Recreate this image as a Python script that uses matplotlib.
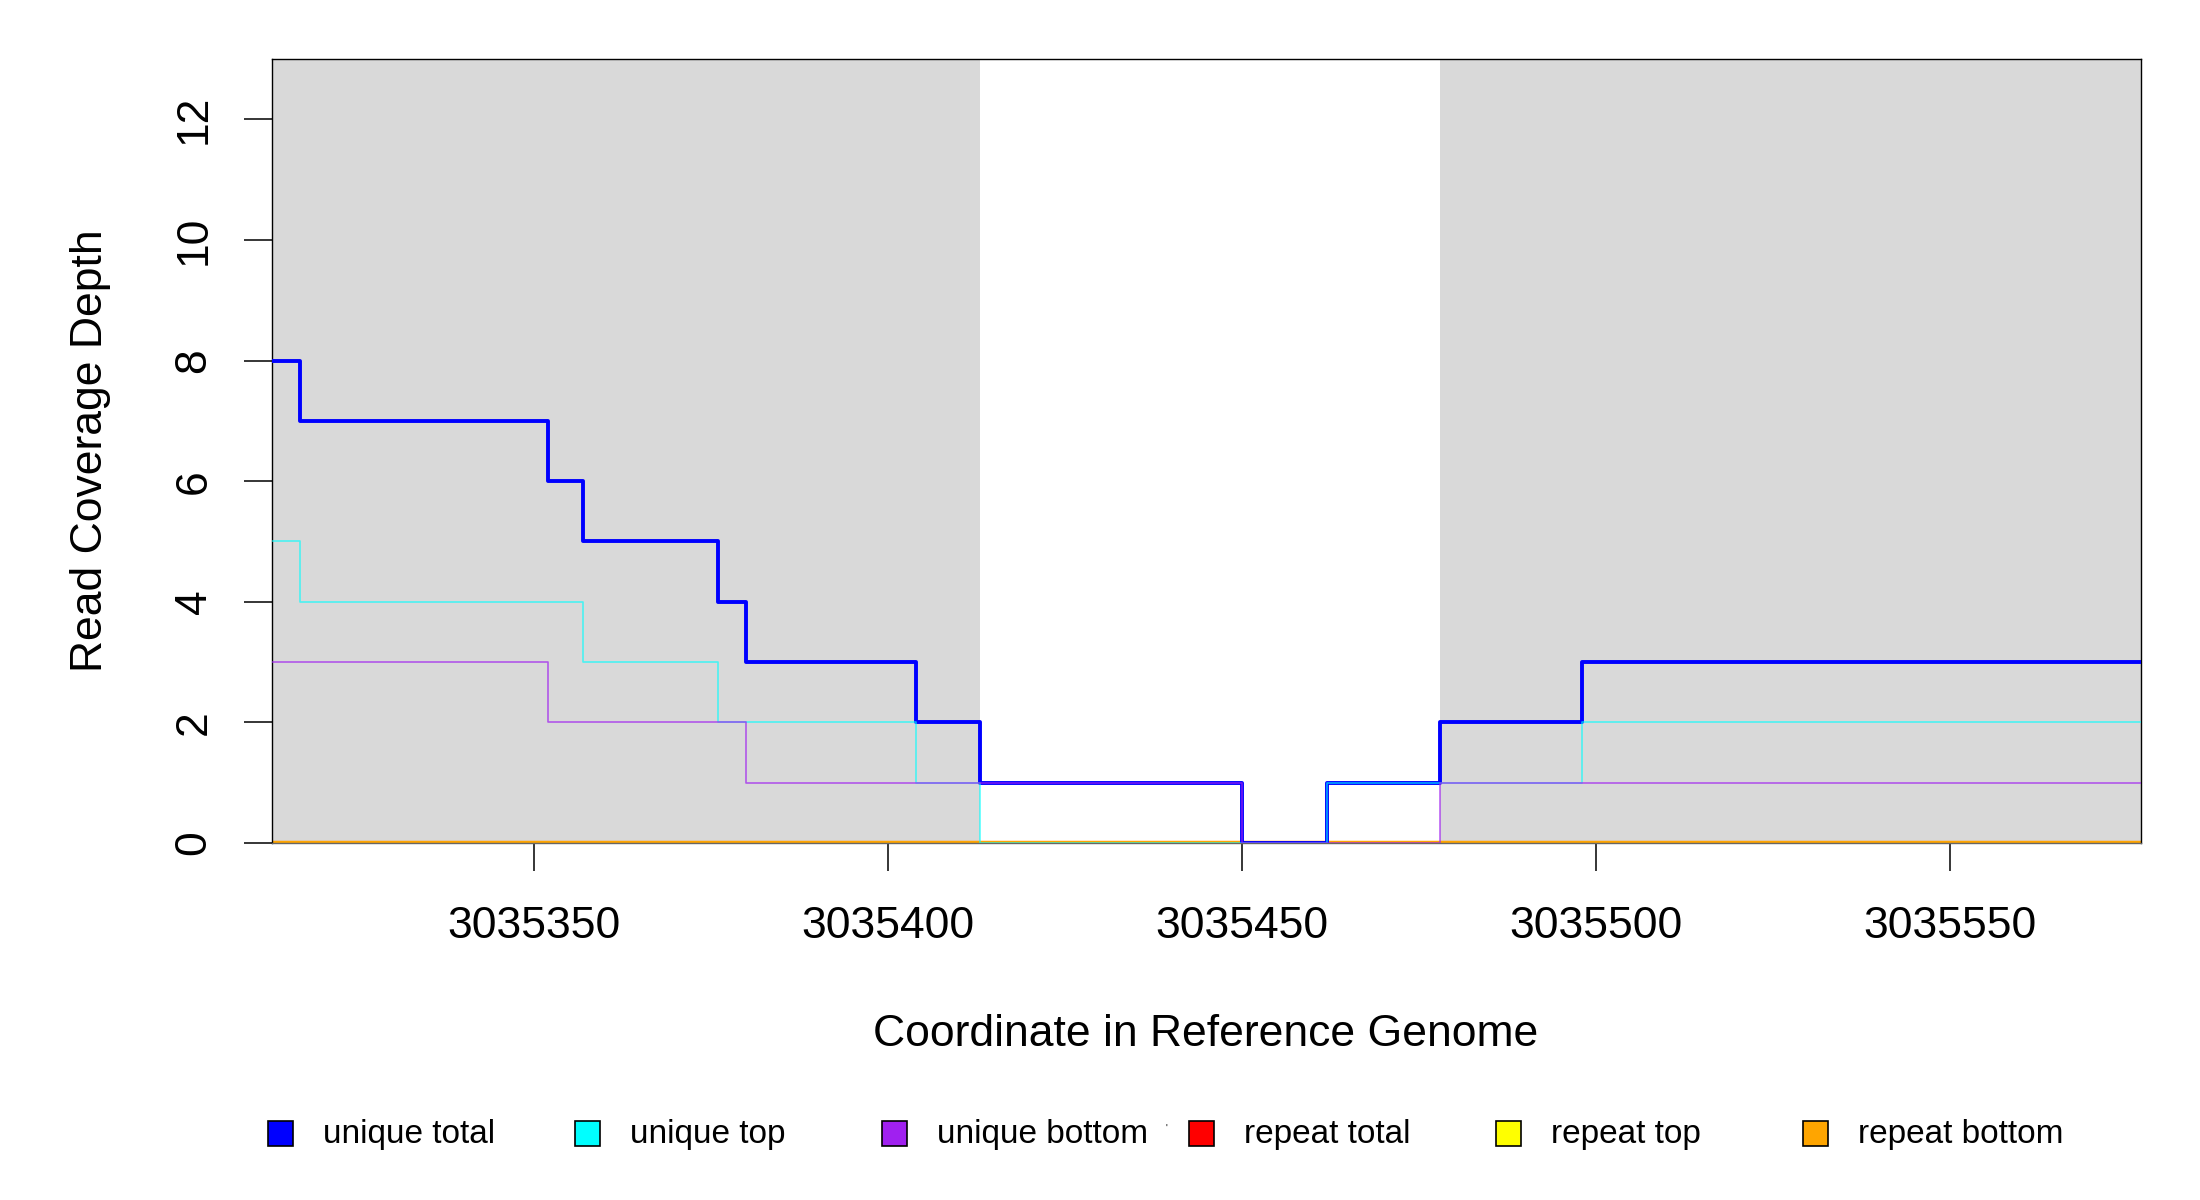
import matplotlib
matplotlib.use("Agg")
import matplotlib.pyplot as plt
from matplotlib.patches import Rectangle

plt.rcParams["font.family"] = ["Liberation Sans", "DejaVu Sans"]

# step change points (genome coordinates); last entry is the right end
positions = [3035313, 3035317, 3035352, 3035357, 3035376, 3035380,
             3035404, 3035413, 3035450, 3035462, 3035478, 3035498, 3035577]
unique_total = [8, 7, 6, 5, 4, 3, 2, 1, 0, 1, 2, 3]
unique_top = [5, 4, 4, 3, 2, 2, 1, 0, 0, 1, 1, 2]
unique_bottom = [3, 3, 2, 2, 2, 1, 1, 1, 0, 0, 1, 1]
repeat_total = [0] * 12
repeat_top = [0] * 12
repeat_bottom = [0] * 12

# shaded (annotated) regions
regions = [(3035313, 3035413), (3035478, 3035577)]

x_ticks = [3035350, 3035400, 3035450, 3035500, 3035550]
y_ticks = [0, 2, 4, 6, 8, 10, 12]

legend_labels = ["unique total", "unique top", "unique bottom",
                 "repeat total", "repeat top", "repeat bottom"]
legend_colors = ["#0000FF", "#00FFFF", "#A020F0", "#FF0000", "#FFFF00", "#FFA500"]


def ext(vals):
    return list(vals) + [vals[-1]]


W, H = 2200, 1200
fig = plt.figure(figsize=(22, 12), dpi=100)
ax = fig.add_axes([271.5 / W, (H - 843) / H, (2141 - 271.5) / W, (843 - 59) / H])

for a, b in regions:
    ax.axvspan(a, b, color="#D9D9D9", lw=0, zorder=0)

# repeats first, then unique series on top
ax.step(positions, ext(repeat_total), where="post", color="#FF0000", lw=3.0, zorder=2)
ax.step(positions, ext(repeat_top), where="post", color="#FFFF00", lw=3.0, zorder=2)
ax.step(positions, ext(repeat_bottom), where="post", color="#FFA500", lw=3.0, zorder=2)
ax.step(positions, ext(unique_total), where="post", color="#0000FF", lw=2.8, zorder=3)
ax.step(positions, ext(unique_top), where="post", color="#00FFFF", lw=1.2, alpha=0.65, zorder=3)
ax.step(positions, ext(unique_bottom), where="post", color="#A020F0", lw=1.2, alpha=0.7, zorder=3)

ax.set_xlim(positions[0], positions[-1])
ax.set_ylim(0, 13)
ax.set_xticks(x_ticks)
ax.set_xticklabels([str(t) for t in x_ticks])
ax.set_yticks(y_ticks)
ax.set_yticklabels([str(t) for t in y_ticks], rotation=90, va="center")

for s in ax.spines.values():
    s.set_linewidth(1.0)
    s.set_color("black")
ax.spines["bottom"].set_color("#666666")

ax.tick_params(axis="both", length=20, width=1.1, labelsize=32, color="black")
ax.tick_params(axis="x", pad=25)
ax.tick_params(axis="y", pad=21)

fig.text(1206 / W, 1 - 1034 / H, "Coordinate in Reference Genome",
         ha="center", va="center", fontsize=32)
fig.text(91 / W, 1 - 451 / H, "Read Coverage Depth",
         ha="center", va="center", rotation=90, fontsize=32)

# legend row along the bottom
leg_y = 1133
for i, (lab, col) in enumerate(zip(legend_labels, legend_colors)):
    x0 = 267.7 + i * 307
    fig.add_artist(Rectangle((x0 / W, 1 - (leg_y + 12.5) / H), 25 / W, 25 / H,
                             transform=fig.transFigure, facecolor=col,
                             edgecolor="black", lw=1.2))
    fig.text((x0 + 55) / W, 1 - (leg_y + 1) / H, lab, ha="left", va="center", fontsize=24)
fig.text(1166 / W, 1 - 1129 / H, "'", ha="center", va="center", fontsize=7)

fig.savefig("out.png", dpi=100)
plt.close(fig)
